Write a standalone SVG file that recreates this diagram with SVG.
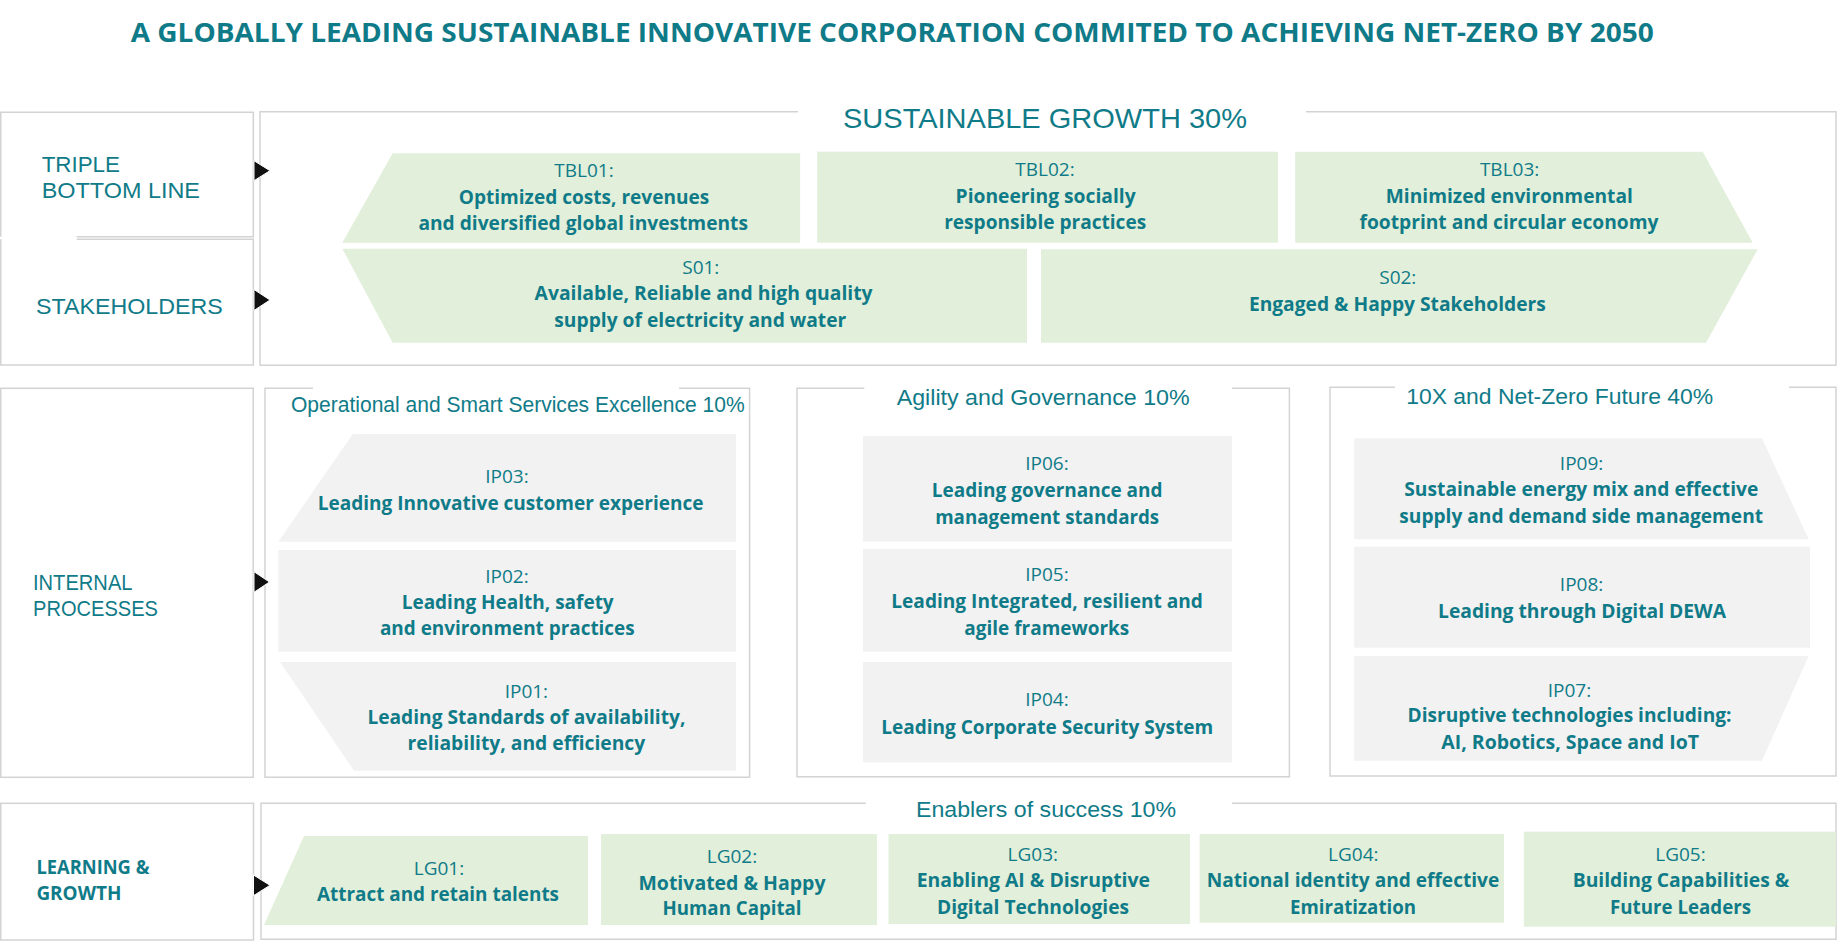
<svg xmlns="http://www.w3.org/2000/svg" width="1838" height="941" viewBox="0 0 1838 941">
<style>
.bg{fill:#ffffff}
.bd{fill:none;stroke:#d3d3d3;stroke-width:1.5}
.gn{fill:#e2efda}
.gy{fill:#f2f2f2}
.arw{fill:#111111;stroke:#ffffff;stroke-width:1}
text{fill:#107b88}
.title{font-family:"Open Sans","Liberation Sans",sans-serif;font-weight:700;font-size:27.5px}
.lab{font-family:"Liberation Sans",Arial,sans-serif;font-size:22px}
.labb{font-family:"Open Sans","Liberation Sans",sans-serif;font-weight:700;font-size:19px}
.hdr{font-family:"Liberation Sans",Arial,sans-serif;font-size:22px}
.hdrL{font-family:"Liberation Sans",Arial,sans-serif;font-size:28px}
.code{font-family:"Open Sans","Liberation Sans",sans-serif;font-size:19px;text-anchor:middle}
.desc{font-family:"Open Sans","Liberation Sans",sans-serif;font-weight:700;font-size:19px;text-anchor:middle}
</style>
<rect class="bg" x="0" y="0" width="1838" height="941"/>

<text id="title" class="title" x="130.7" y="42.3" textLength="1523" lengthAdjust="spacingAndGlyphs">A GLOBALLY LEADING SUSTAINABLE INNOVATIVE CORPORATION COMMITED TO ACHIEVING NET-ZERO BY 2050</text>

<!-- Frames -->
<g id="frames">
  <path class="bd" d="M0.75,236.7 V112.3 H253.3 V236.7 H76.7"/>
  <path class="bd" d="M76.7,239.3 H253.3 V365 H0.75 V239.3"/>
  <path class="bd" d="M798,111.7 H260 V365.3 H1836 V111.7 H1306"/>
  <rect class="bd" x="0.75" y="388.3" width="252.5" height="389"/>
  <path class="bd" d="M313,388.3 H265 V777.3 H749.6 V388.3 H679"/>
  <path class="bd" d="M864.3,388.3 H797 V776.7 H1289.4 V388.3 H1232"/>
  <path class="bd" d="M1395,387.3 H1330 V776 H1836 V387.3 H1789"/>
  <rect class="bd" x="0.75" y="803.3" width="252.75" height="136.7"/>
  <path class="bd" d="M866,803.3 H261 V939.3 H1836 V803.3 H1232"/>
</g>

<!-- Row labels -->
<g id="label-tbl">
  <text class="lab" x="41.7" y="171.7" textLength="78.3" lengthAdjust="spacingAndGlyphs">TRIPLE</text>
  <text class="lab" x="41.7" y="197.7" textLength="158.3" lengthAdjust="spacingAndGlyphs">BOTTOM LINE</text>
</g>
<g id="label-stakeholders">
  <text class="lab" x="36" y="314.3" textLength="186.7" lengthAdjust="spacingAndGlyphs">STAKEHOLDERS</text>
</g>
<g id="label-internal">
  <text class="lab" x="33" y="589.5" textLength="99.5" lengthAdjust="spacingAndGlyphs">INTERNAL</text>
  <text class="lab" x="33" y="615.5" textLength="125" lengthAdjust="spacingAndGlyphs">PROCESSES</text>
</g>
<g id="label-learning">
  <text class="labb" x="36.4" y="873.5" textLength="113" lengthAdjust="spacingAndGlyphs">LEARNING &amp;</text>
  <text class="labb" x="36.4" y="900" textLength="85" lengthAdjust="spacingAndGlyphs">GROWTH</text>
</g>

<!-- Section headers -->
<text id="hdr-growth" class="hdrL" x="843" y="128.3" textLength="404" lengthAdjust="spacingAndGlyphs">SUSTAINABLE GROWTH 30%</text>
<text id="hdr-ops" class="hdr" x="291" y="411.5" textLength="453.6" lengthAdjust="spacingAndGlyphs">Operational and Smart Services Excellence 10%</text>
<text id="hdr-agility" class="hdr" x="896.7" y="404.5" textLength="293" lengthAdjust="spacingAndGlyphs">Agility and Governance 10%</text>
<text id="hdr-10x" class="hdr" x="1406.2" y="404" textLength="307" lengthAdjust="spacingAndGlyphs">10X and Net-Zero Future 40%</text>
<text id="hdr-enablers" class="hdr" x="916" y="817" textLength="260" lengthAdjust="spacingAndGlyphs">Enablers of success 10%</text>

<!-- Connectors (row arrows) -->
<g id="connectors">
  <polygon class="arw" points="254,160.7 270,170.7 254,180.7"/>
  <polygon class="arw" points="254,289.5 270,300 254,310.5"/>
  <polygon class="arw" points="254,571.7 269.5,582 254,592.3"/>
  <polygon class="arw" points="253.5,875 270,885.3 253.5,895.7"/>
</g>

<!-- Triple bottom line -->
<g id="TBL01">
  <polygon class="gn" points="392.7,153.3 800.2,153.3 800.2,242.7 342.3,242.7"/>
  <text class="code" x="584" y="177">TBL01:</text>
  <text class="desc" x="584" y="203.7" textLength="250.5" lengthAdjust="spacingAndGlyphs">Optimized costs, revenues</text>
  <text class="desc" x="583.2" y="229.7" textLength="329.6" lengthAdjust="spacingAndGlyphs">and diversified global investments</text>
</g>
<g id="TBL02">
  <rect class="gn" x="817.2" y="151.7" width="460.8" height="91"/>
  <text class="code" x="1045" y="176">TBL02:</text>
  <text class="desc" x="1045.6" y="203" textLength="180" lengthAdjust="spacingAndGlyphs">Pioneering socially</text>
  <text class="desc" x="1045.2" y="229" textLength="202" lengthAdjust="spacingAndGlyphs">responsible practices</text>
</g>
<g id="TBL03">
  <polygon class="gn" points="1295.2,151.7 1702.7,151.7 1752.7,242.7 1295.2,242.7"/>
  <text class="code" x="1509.6" y="176">TBL03:</text>
  <text class="desc" x="1509.3" y="203" textLength="247" lengthAdjust="spacingAndGlyphs">Minimized environmental</text>
  <text class="desc" x="1509" y="229" textLength="299" lengthAdjust="spacingAndGlyphs">footprint and circular economy</text>
</g>

<!-- Stakeholders -->
<g id="S01">
  <polygon class="gn" points="342.3,248.7 1027,248.7 1027,342.7 392.7,342.7"/>
  <text class="code" x="700.8" y="273.7">S01:</text>
  <text class="desc" x="703.6" y="300.3" textLength="338" lengthAdjust="spacingAndGlyphs">Available, Reliable and high quality</text>
  <text class="desc" x="700.3" y="327" textLength="292" lengthAdjust="spacingAndGlyphs">supply of electricity and water</text>
</g>
<g id="S02">
  <polygon class="gn" points="1041,249.3 1757.7,249.3 1706,342.7 1041,342.7"/>
  <text class="code" x="1397.8" y="284.3">S02:</text>
  <text class="desc" x="1397.4" y="311.3" textLength="297" lengthAdjust="spacingAndGlyphs">Engaged &amp; Happy Stakeholders</text>
</g>

<!-- Internal processes: Operational -->
<g id="IP03">
  <polygon class="gy" points="352.7,434 736,434 736,541.7 278.3,541.7"/>
  <text class="code" x="507" y="482.7">IP03:</text>
  <text class="desc" x="510.6" y="509.7" textLength="385.7" lengthAdjust="spacingAndGlyphs">Leading Innovative customer experience</text>
</g>
<g id="IP02">
  <rect class="gy" x="278.3" y="550" width="457.7" height="101.7"/>
  <text class="code" x="507" y="582.7">IP02:</text>
  <text class="desc" x="507.7" y="609.3" textLength="212" lengthAdjust="spacingAndGlyphs">Leading Health, safety</text>
  <text class="desc" x="507.3" y="635.3" textLength="254.7" lengthAdjust="spacingAndGlyphs">and environment practices</text>
</g>
<g id="IP01">
  <polygon class="gy" points="280,662 736,662 736,770.7 354,770.7"/>
  <text class="code" x="526.4" y="697.7">IP01:</text>
  <text class="desc" x="526.4" y="723.7" textLength="318" lengthAdjust="spacingAndGlyphs">Leading Standards of availability,</text>
  <text class="desc" x="526.4" y="750.3" textLength="237.7" lengthAdjust="spacingAndGlyphs">reliability, and efficiency</text>
</g>

<!-- Agility -->
<g id="IP06">
  <rect class="gy" x="863" y="436" width="369" height="105.7"/>
  <text class="code" x="1047" y="470.3">IP06:</text>
  <text class="desc" x="1047.2" y="497" textLength="230.8" lengthAdjust="spacingAndGlyphs">Leading governance and</text>
  <text class="desc" x="1047.2" y="523.7" textLength="224" lengthAdjust="spacingAndGlyphs">management standards</text>
</g>
<g id="IP05">
  <rect class="gy" x="863" y="549" width="369" height="102.7"/>
  <text class="code" x="1047" y="581.3">IP05:</text>
  <text class="desc" x="1047.1" y="608" textLength="311.7" lengthAdjust="spacingAndGlyphs">Leading Integrated, resilient and</text>
  <text class="desc" x="1046.8" y="634.7" textLength="165" lengthAdjust="spacingAndGlyphs">agile frameworks</text>
</g>
<g id="IP04">
  <rect class="gy" x="863" y="662" width="369" height="100.3"/>
  <text class="code" x="1047" y="706.3">IP04:</text>
  <text class="desc" x="1047.2" y="733.7" textLength="332" lengthAdjust="spacingAndGlyphs">Leading Corporate Security System</text>
</g>

<!-- 10X -->
<g id="IP09">
  <polygon class="gy" points="1354.2,438.3 1762,438.3 1808.7,539.3 1354.2,539.3"/>
  <text class="code" x="1581.6" y="470.3">IP09:</text>
  <text class="desc" x="1581.3" y="496" textLength="354" lengthAdjust="spacingAndGlyphs">Sustainable energy mix and effective</text>
  <text class="desc" x="1581.2" y="522.7" textLength="363.7" lengthAdjust="spacingAndGlyphs">supply and demand side management</text>
</g>
<g id="IP08">
  <rect class="gy" x="1354.2" y="546.7" width="455.8" height="101"/>
  <text class="code" x="1581.6" y="591">IP08:</text>
  <text class="desc" x="1582" y="618" textLength="288" lengthAdjust="spacingAndGlyphs">Leading through Digital DEWA</text>
</g>
<g id="IP07">
  <polygon class="gy" points="1354.2,656 1808.7,656 1762,760.7 1354.2,760.7"/>
  <text class="code" x="1569.5" y="697">IP07:</text>
  <text class="desc" x="1569.5" y="722" textLength="324" lengthAdjust="spacingAndGlyphs">Disruptive technologies including:</text>
  <text class="desc" x="1570.2" y="748.7" textLength="257.7" lengthAdjust="spacingAndGlyphs">AI, Robotics, Space and IoT</text>
</g>

<!-- Learning & Growth -->
<g id="LG01">
  <polygon class="gn" points="304,836 588,836 588,925 264,925"/>
  <text class="code" x="439" y="875.3">LG01:</text>
  <text class="desc" x="438" y="901.3" textLength="242" lengthAdjust="spacingAndGlyphs">Attract and retain talents</text>
</g>
<g id="LG02">
  <rect class="gn" x="601" y="834" width="276" height="91"/>
  <text class="code" x="732" y="863">LG02:</text>
  <text class="desc" x="732" y="889.7" textLength="187" lengthAdjust="spacingAndGlyphs">Motivated &amp; Happy</text>
  <text class="desc" x="732" y="915.3" textLength="139" lengthAdjust="spacingAndGlyphs">Human Capital</text>
</g>
<g id="LG03">
  <rect class="gn" x="888.5" y="834" width="301.5" height="90"/>
  <text class="code" x="1032.8" y="861">LG03:</text>
  <text class="desc" x="1033.4" y="887" textLength="233.3" lengthAdjust="spacingAndGlyphs">Enabling AI &amp; Disruptive</text>
  <text class="desc" x="1033" y="913.7" textLength="192" lengthAdjust="spacingAndGlyphs">Digital Technologies</text>
</g>
<g id="LG04">
  <rect class="gn" x="1199.6" y="834" width="304.4" height="88.7"/>
  <text class="code" x="1353.3" y="861">LG04:</text>
  <text class="desc" x="1353" y="887" textLength="292.5" lengthAdjust="spacingAndGlyphs">National identity and effective</text>
  <text class="desc" x="1353" y="913.7" textLength="126" lengthAdjust="spacingAndGlyphs">Emiratization</text>
</g>
<g id="LG05">
  <rect class="gn" x="1523.8" y="831.7" width="312.2" height="95"/>
  <text class="code" x="1680.5" y="861">LG05:</text>
  <text class="desc" x="1681" y="887" textLength="216.6" lengthAdjust="spacingAndGlyphs">Building Capabilities &amp;</text>
  <text class="desc" x="1680.5" y="913.7" textLength="141" lengthAdjust="spacingAndGlyphs">Future Leaders</text>
</g>
</svg>
